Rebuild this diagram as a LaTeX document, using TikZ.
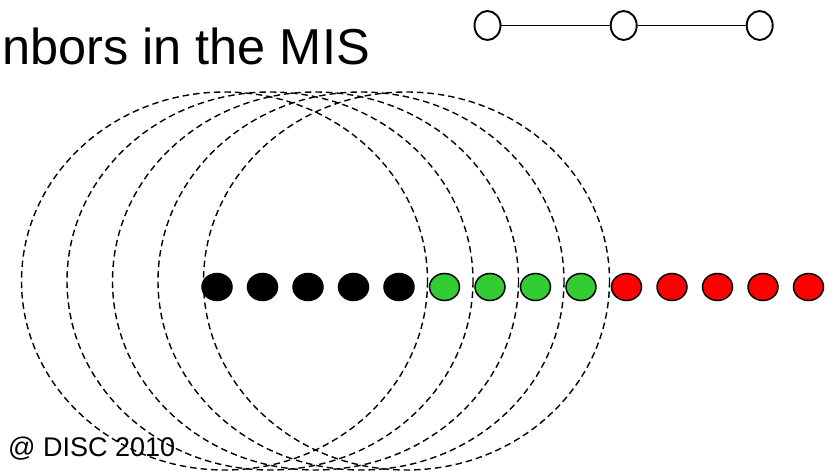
\documentclass[tikz,border=0pt]{standalone}
\usepackage{fontspec}
\setmainfont{Liberation Sans}
\usetikzlibrary{shapes.geometric}
\definecolor{dotgreen}{RGB}{50,205,50}
\definecolor{dotred}{RGB}{255,0,0}
\tikzset{
  ring/.style={draw=black, dashed, dash pattern=on 6.5pt off 4pt, line width=1.4pt},
  vertex/.style={ellipse, draw=black, line width=1.5pt, minimum width=30pt, minimum height=27pt, inner sep=0pt},
  blackv/.style={vertex, fill=black},
  greenv/.style={vertex, fill=dotgreen},
  redv/.style={vertex, fill=dotred},
  smallv/.style={ellipse, draw=black, line width=1.9pt, fill=white, minimum width=26pt, minimum height=29pt, inner sep=0pt},
  edge/.style={draw=black, line width=1.9pt}
}
\begin{document}
\begin{tikzpicture}[x=1pt, y=-1pt]
  \useasboundingbox (0,0) rectangle (833,473);
  \clip (0,0) rectangle (833,473);

  % title
  \node[anchor=base east, inner sep=0pt, font=\fontsize{50.5}{60}\selectfont] (title) at (370,65) {nbors in the MIS};

  % footer
  \node[anchor=base west, inner sep=0pt, font=\fontsize{27}{32}\selectfont] (footer) at (8,456) {@ DISC 2010};

  % dashed ranges
  \foreach \i in {0,...,4} {
    \draw[ring] ({224.5+45.5*\i},281) ellipse [x radius=203, y radius=189];
  }

  % path of vertices
  \foreach \i in {0,...,4} {
    \node[blackv] (b\i) at ({217+45.5*\i},287) {};
  }
  \foreach \i in {5,...,8} {
    \node[greenv] (g\i) at ({217+45.5*\i},287) {};
  }
  \foreach \i in {9,...,13} {
    \node[redv] (r\i) at ({217+45.5*\i},287) {};
  }

  % small path graph
  \node[smallv] (p1) at (487.5,25.5) {};
  \node[smallv] (p2) at (623.7,25.5) {};
  \node[smallv] (p3) at (759.7,25.5) {};
  \draw[edge] (p1) -- (p2);
  \draw[edge] (p2) -- (p3);
\end{tikzpicture}
\end{document}
